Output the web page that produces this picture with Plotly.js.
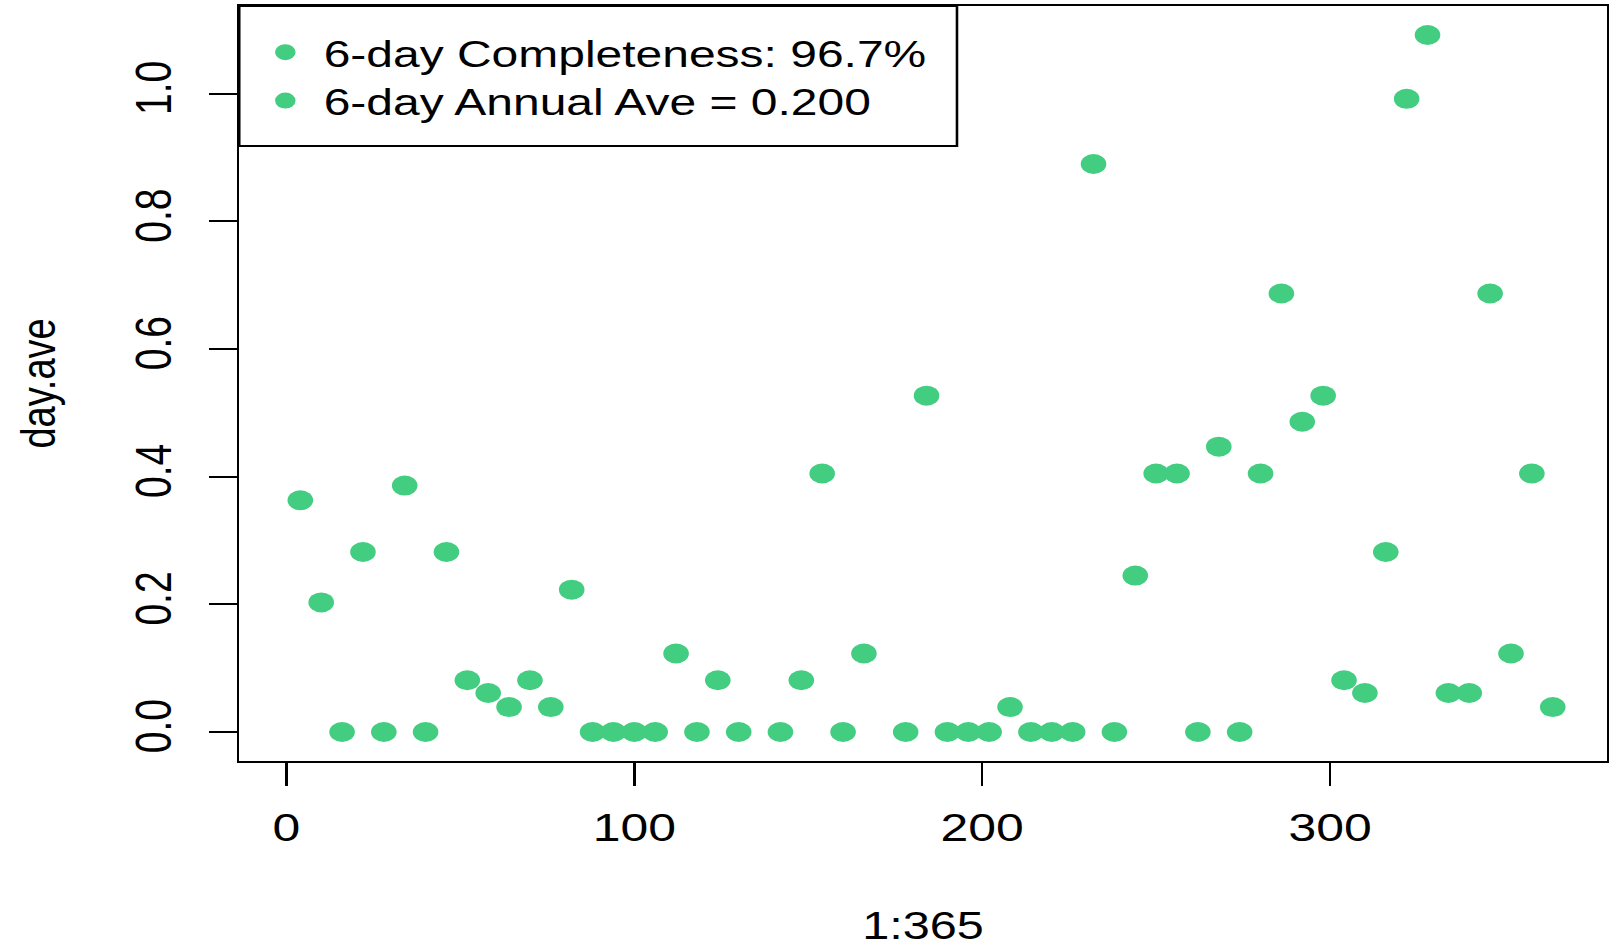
<!DOCTYPE html>
<html>
<head>
<meta charset="utf-8">
<script src="https://cdn.plot.ly/plotly-3.0.1.min.js"></script>
<style>
html,body{margin:0;padding:0;background:#fff;overflow:hidden;width:1612px;height:947px}
#chart{width:1260px;height:947px;transform:scaleX(1.279365);transform-origin:0 0;}
</style>
</head>
<body>
<div id="chart"></div>
<script>
// Sampling days (every 6th day) and the 6-day averages (null = missing sample)
const days = [4,10,16,22,28,34,40,46,52,58,64,70,76,82,88,94,100,106,112,118,124,130,136,142,148,154,160,166,172,178,184,190,196,202,208,214,220,226,232,238,244,250,256,262,268,274,280,286,292,298,304,310,316,322,328,334,340,346,352,358,364];
const dayAve = [0.363,0.203,0,0.282,0,0.386,0,0.282,0.081,0.061,0.039,0.081,0.039,0.223,0,0,0,0,0.123,0,0.081,0,null,0,0.081,0.405,0,0.123,null,0,0.527,0,0,0,0.039,0,0,0,0.890,0,0.245,0.405,0.405,0,0.447,0,0.405,0.687,0.486,0.527,0.081,0.061,0.282,0.992,1.092,0.061,0.061,0.687,0.123,0.405,0.039];
const legendLabels = ['6-day Completeness: 96.7%', '6-day Annual Ave = 0.200'];
const xTickVals = [0,100,200,300];
const xTickText = ['0','100','200','300'];
const yTickVals = [0,0.2,0.4,0.6,0.8,1.0];
const yTickText = ['0.0','0.2','0.4','0.6','0.8','1.0'];
const xTitle = '1:365';
const yTitle = 'day.ave';

const green = '#43CD80';
const fontFam = '"Liberation Sans", Arial, sans-serif';

const traces = [
  {x: days, y: dayAve, type: 'scatter', mode: 'markers', name: legendLabels[0],
   marker: {color: green, size: 20}, hoverinfo: 'x+y', legend: 'legend'},
  {x: [null], y: [null], type: 'scatter', mode: 'markers', name: legendLabels[1],
   marker: {color: green, size: 20}, hoverinfo: 'skip', legend: 'legend2'}
];

const axisCommon = {
  showline: true, mirror: true, linecolor: '#000', linewidth: 2,
  ticks: 'outside', tickcolor: '#000', tickwidth: 2,
  showgrid: false, zeroline: false,
  tickfont: {family: fontFam, size: 39, color: '#000'}
};

const legendCommon = {
  x: 0, xanchor: 'left', yanchor: 'middle',
  borderwidth: 0, bgcolor: 'rgba(255,255,255,0)',
  font: {family: fontFam, size: 37.5, color: '#000'},
  itemwidth: 50, indentation: 6
};

const layout = {
  width: 1260, height: 947,
  margin: {l: 187, r: 4, t: 6, b: 186, pad: 0},
  paper_bgcolor: '#fff', plot_bgcolor: '#fff',
  font: {family: fontFam, color: '#000', size: 38},
  showlegend: true,
  xaxis: Object.assign({}, axisCommon, {
    range: [-13.56, 379.56], tickmode: 'array', tickvals: xTickVals, ticktext: xTickText,
    ticklen: 23, ticklabelstandoff: 8,
    title: {text: xTitle, font: {family: fontFam, size: 38, color: '#000'}, standoff: 65}
  }),
  yaxis: Object.assign({}, axisCommon, {
    range: [-0.0455, 1.1375], tickmode: 'array', tickvals: yTickVals, ticktext: yTickText,
    ticklen: 22, tickangle: -90, ticklabelstandoff: 14,
    title: {text: yTitle, font: {family: fontFam, size: 38, color: '#000'}, standoff: 43}
  }),
  legend: Object.assign({}, legendCommon, {y: 0.9387}),
  legend2: Object.assign({}, legendCommon, {y: 0.8746}),
  shapes: [
    {type: 'rect', xref: 'paper', yref: 'paper', x0: 0, x1: 0.5248, y0: 0.8146, y1: 1,
     line: {color: '#000', width: 2}, fillcolor: 'rgba(0,0,0,0)', layer: 'above'}
  ]
};

Plotly.newPlot('chart', traces, layout, {displayModeBar: false, responsive: false});
</script>
</body>
</html>
